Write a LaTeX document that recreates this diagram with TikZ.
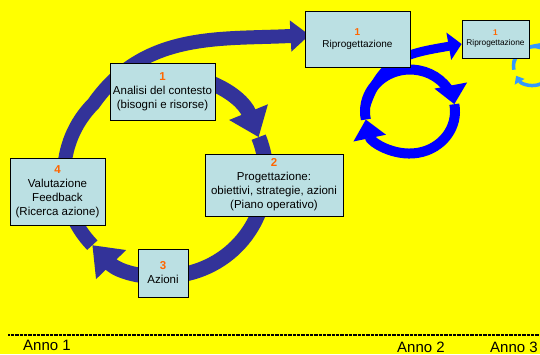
\documentclass[tikz,border=0pt]{standalone}
\usepackage{fontspec}
\setmainfont{Liberation Sans}
\usetikzlibrary{arrows.meta,calc}
\definecolor{bgyellow}{RGB}{255,255,0}
\definecolor{cycleblue}{RGB}{51,51,153}
\definecolor{ringblue}{RGB}{0,0,255}
\definecolor{lightring}{RGB}{51,153,255}
\definecolor{boxfill}{RGB}{187,224,227}
\definecolor{numorange}{RGB}{255,102,0}
\newcommand\stagenum[1]{{\color{numorange}\bfseries #1}}
\pgfdeclarelayer{bg}
\pgfsetlayers{bg,main}
\begin{document}
\begin{tikzpicture}[x=1pt,y=1pt,
  stagebox/.style={draw=black, line width=0.9pt, fill=boxfill, align=center, inner sep=2pt,
    font=\fontsize{11.5}{14}\selectfont},
  riprobox/.style={draw=black, line width=0.9pt, fill=boxfill, align=center, inner sep=2pt,
    font=\fontsize{10}{11.5}\selectfont},
  smallbox/.style={draw=black, line width=0.8pt, fill=boxfill, align=center, inner sep=1pt,
    font=\fontsize{8.3}{10}\selectfont},
  cyclearrow/.style={draw=cycleblue, line width=15pt, -{Triangle[length=27pt,width=40pt]}},
  ringarrow/.style={draw=ringblue, line width=10pt, -{Triangle[length=19pt,width=32pt]}},
  lightarrow/.style={draw=lightring, line width=3.5pt, -{Triangle[length=7pt,width=11pt]}},
  annolabel/.style={anchor=base west, inner sep=0pt, font=\fontsize{15}{18}\selectfont}
]
\begin{pgfonlayer}{bg}
  \fill[bgyellow] (0,0) rectangle (540,354);
\end{pgfonlayer}
\useasboundingbox (0,0) rectangle (540,354);

% boxes
\node[stagebox, minimum width=105pt, minimum height=57pt] (b1) at (162.5,262.5)
  {\stagenum{1}\\Analisi del contesto\\(bisogni e risorse)};
\node[stagebox, minimum width=138pt, minimum height=62pt] (b2) at (274,169)
  {\stagenum{2}\\Progettazione:\\obiettivi, strategie, azioni\\(Piano operativo)};
\node[stagebox, minimum width=50pt, minimum height=48pt] (b3) at (163,81)
  {\stagenum{3}\\Azioni};
\node[stagebox, minimum width=95pt, minimum height=67pt] (b4) at (57.5,162.5)
  {\stagenum{4}\\Valutazione\\Feedback\\(Ricerca azione)};
\node[riprobox, minimum width=105pt, minimum height=56pt] (r1) at (357.5,315)
  {\stagenum{1}\\Riprogettazione};
\node[smallbox, minimum width=67pt, minimum height=38pt] (r2) at (495.5,315)
  {\stagenum{1}\\Riprogettazione};

\coordinate (C) at (165,179);
\coordinate (E) at (410,242.5);
\coordinate (L) at (533,288);
\coordinate (lightend) at (565,313);

\begin{pgfonlayer}{bg}
  % year 1 cycle
  \draw[cyclearrow] ($(C)+(100:101pt)$) arc[start angle=100, end angle=22, radius=101pt];
  \draw[cyclearrow] ($(C)+(22:101pt)$) arc[start angle=22, end angle=-136, radius=101pt];
  \draw[draw=cycleblue, line width=14pt, line join=round, -{Triangle[length=19pt,width=30pt]}]
    ($(C)+(224:101pt)$) arc[start angle=224, end angle=135, radius=101pt]
    to[out=55,in=183] ($(r1.west)+(5,4)$);
  % year 2 cycle
  \draw[ringarrow] ($(E)+(191:45pt and 42pt)$) arc[start angle=191, end angle=10, x radius=45pt, y radius=42pt];
  \draw[ringarrow] ($(E)+(10:45pt and 42pt)$) arc[start angle=10, end angle=-169, x radius=45pt, y radius=42pt];
  \draw[draw=ringblue, line width=9pt, line join=round, -{Triangle[length=13pt,width=27pt]}]
    ($(E)+(175:45pt and 42pt)$) to[out=72,in=190,looseness=1.2] ($(r2.west)+(0,-5)$);
  % year 3 cycle
  \draw[lightarrow] ($(L)+(191:19.5pt)$) arc[start angle=191, end angle=15, radius=19.5pt];
  \draw[lightarrow] ($(L)+(15:19.5pt)$) arc[start angle=15, end angle=-150, radius=19.5pt];
  \draw[draw=lightring, line width=3.5pt] ($(L)+(168:19.5pt)$) to[out=70,in=195] (lightend);
\end{pgfonlayer}

% time line
\coordinate (tl0) at (8,19);
\coordinate (tl1) at (540,19);
\draw[line width=1.4pt, dash pattern=on 0.8pt off 0.5pt] (tl0) -- (tl1);
\node[annolabel] (anno1) at (23,3.5) {Anno 1};
\node[annolabel] (anno2) at (397,2) {Anno 2};
\node[annolabel] (anno3) at (490,2) {Anno 3};
\end{tikzpicture}
\end{document}
